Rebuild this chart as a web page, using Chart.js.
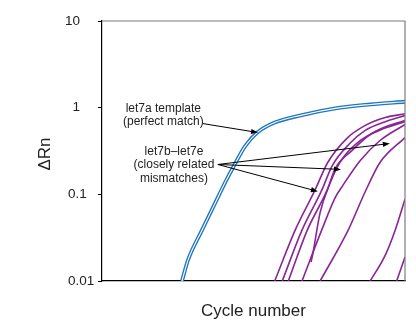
<!DOCTYPE html>
<html lang="en">
<head>
<meta charset="UTF-8">
<title>ΔRn vs cycle number</title>
<script src="https://cdn.jsdelivr.net/npm/chart.js"></script>
<style>
    body { margin: 0; background: #fff; }
    canvas { display: block; }
</style>
</head>
<body>
<canvas id="chart" width="416" height="320"></canvas>
<script>
    // let7a template (perfect match) - blue double line
    const templateCycles = [10.56, 11.35, 13.2, 14.8, 16.4, 17.3, 18.9, 20.5, 22.8, 26.1, 31.4, 35.4, 40];
    const templateRn = [0.01, 0.0174, 0.0386, 0.075, 0.145, 0.204, 0.36, 0.516, 0.673, 0.81, 1.0, 1.09, 1.17];

    // let7b-let7e mismatches - purple curves
    const mismatchCycles = [
        [22.8, 25.5, 28.1, 29.8, 32.3, 34.7, 37.4, 40],
        [23.8, 26.4, 29.0, 30.4, 32.7, 34.7, 37.4, 40],
        [24.6, 27.1, 29.7, 30.8, 33.0, 35.4, 37.8, 40],
        [27.6, 27.85, 28.8, 30.1, 31.4, 34.1, 37.1, 40],
        [26.4, 29.0, 30.8, 31.8, 34.1, 36.7, 40],
        [28.8, 32.5, 34.7, 36.7, 40],
        [35.4, 37.4, 38.7, 40],
        [38.9, 40]
    ];
    const mismatchRn = [
        [0.01, 0.0386, 0.111, 0.233, 0.44, 0.62, 0.77, 0.85],
        [0.01, 0.0386, 0.111, 0.215, 0.386, 0.544, 0.69, 0.81],
        [0.01, 0.0386, 0.111, 0.199, 0.32, 0.49, 0.62, 0.71],
        [0.0165, 0.021, 0.062, 0.134, 0.233, 0.418, 0.57, 0.69],
        [0.01, 0.0386, 0.0924, 0.127, 0.246, 0.418, 0.64],
        [0.01, 0.0386, 0.105, 0.233, 0.452],
        [0.01, 0.0199, 0.0386, 0.088],
        [0.01, 0.0189]
    ];

    const yTickValues = [0.01, 0.1, 1, 10];
    const yTickLabels = ['0.01', '0.1', '1', '10'];

    // annotations, in data units (cycle, ΔRn)
    const templateLabel = ['let7a template', '(perfect match)'];
    const templateLabelAt = [8.1, 0.9];
    const templateArrowFrom = [13.33, 0.655];
    const templateArrowTo = [20.6, 0.516];

    const mismatchLabel = ['let7b\u2013let7e', '(closely related', 'mismatches)'];
    const mismatchLabelAt = [9.5, 0.288];
    const mismatchArrowFrom = [15.3, 0.221];
    const mismatchArrowTo = [[38.0, 0.386], [31.55, 0.194], [28.5, 0.108]];

    const FONT = '"Liberation Sans", Arial, Helvetica, sans-serif';
    const toPts = (xs, ys) => xs.map((c, i) => ({ x: c, y: ys[i] }));

    // lower order is drawn on top: white core over blue over purple
    const datasets = [];
    mismatchCycles.forEach((xs, i) => {
        datasets.push({ data: toPts(xs, mismatchRn[i]), borderColor: '#8a2597', borderWidth: 1.6, order: 2 });
    });
    datasets.push({ data: toPts(templateCycles, templateRn), borderColor: '#1f76bf', borderWidth: 3.8, order: 1 });
    datasets.push({ data: toPts(templateCycles, templateRn), borderColor: '#ffffff', borderWidth: 1.1, order: 0 });

    function arrow(ctx, x0, y0, x1, y1) {
        const a = Math.atan2(y1 - y0, x1 - x0), L = 7, W = 2.6;
        const c = Math.cos(a), s = Math.sin(a);
        ctx.beginPath();
        ctx.moveTo(x0, y0);
        ctx.lineTo(x1 - L * 0.8 * c, y1 - L * 0.8 * s);
        ctx.stroke();
        ctx.beginPath();
        ctx.moveTo(x1, y1);
        ctx.lineTo(x1 - L * c + W * s, y1 - L * s - W * c);
        ctx.lineTo(x1 - L * c - W * s, y1 - L * s + W * c);
        ctx.closePath();
        ctx.fill();
    }

    const overlay = {
        id: 'overlay',
        afterDraw(chart) {
            const { ctx, chartArea: a, scales: { x, y } } = chart;
            const px = p => [x.getPixelForValue(p[0]), y.getPixelForValue(p[1])];
            ctx.save();

            // grey top and right frame
            ctx.strokeStyle = '#7d7d7d';
            ctx.lineWidth = 1.2;
            ctx.beginPath();
            ctx.moveTo(a.left, a.top);
            ctx.lineTo(a.right, a.top);
            ctx.lineTo(a.right, a.bottom);
            ctx.stroke();

            // y tick labels
            ctx.fillStyle = '#222';
            ctx.font = '13.5px ' + FONT;
            ctx.textBaseline = 'middle';
            yTickValues.forEach((v, i) => {
                const t = yTickLabels[i], py = y.getPixelForValue(v);
                if (t.includes('.')) { ctx.textAlign = 'left'; ctx.fillText(t, a.left - 34, py); }
                else { ctx.textAlign = 'right'; ctx.fillText(t, a.left - 22, py); }
            });

            // axis titles
            ctx.font = '17px ' + FONT;
            ctx.textAlign = 'center';
            ctx.textBaseline = 'alphabetic';
            ctx.fillText('Cycle number', (a.left + a.right) / 2, 316);
            ctx.save();
            ctx.translate(50, (a.top + a.bottom) / 2 + 3);
            ctx.rotate(-Math.PI / 2);
            ctx.fillText('\u0394Rn', 0, 0);
            ctx.restore();

            // annotation labels
            ctx.font = '12px ' + FONT;
            let [lx, ly] = px(templateLabelAt);
            templateLabel.forEach((t, i) => ctx.fillText(t, lx, ly + i * 13.5));
            [lx, ly] = px(mismatchLabelAt);
            mismatchLabel.forEach((t, i) => ctx.fillText(t, lx, ly + i * 13.5));

            // arrows
            ctx.strokeStyle = '#000';
            ctx.fillStyle = '#000';
            ctx.lineWidth = 1;
            let [x0, y0] = px(templateArrowFrom);
            let [x1, y1] = px(templateArrowTo);
            arrow(ctx, x0, y0, x1, y1);
            [x0, y0] = px(mismatchArrowFrom);
            mismatchArrowTo.forEach(p => {
                [x1, y1] = px(p);
                arrow(ctx, x0, y0, x1, y1);
            });
            ctx.restore();
        }
    };

    new Chart(document.getElementById('chart'), {
        type: 'line',
        data: { datasets },
        options: {
            responsive: false,
            animation: false,
            layout: { padding: { top: 21, right: 11, left: 0, bottom: 0 } },
            elements: {
                point: { radius: 0 },
                line: { cubicInterpolationMode: 'monotone' }
            },
            plugins: { legend: { display: false }, tooltip: { enabled: false } },
            scales: {
                x: {
                    type: 'linear', min: 0, max: 40,
                    ticks: { display: false },
                    grid: { display: false },
                    border: { color: '#000', width: 1.2 },
                    afterFit: s => { s.height = 39; }
                },
                y: {
                    type: 'logarithmic', min: 0.01, max: 10,
                    ticks: { display: false },
                    grid: { drawOnChartArea: false, drawTicks: true, tickLength: 4, color: '#000', lineWidth: 1 },
                    border: { color: '#000', width: 1.2 },
                    afterBuildTicks: s => { s.ticks = yTickValues.map(v => ({ value: v })); },
                    afterFit: s => { s.width = 102; }
                }
            }
        },
        plugins: [overlay]
    });
</script>
</body>
</html>
